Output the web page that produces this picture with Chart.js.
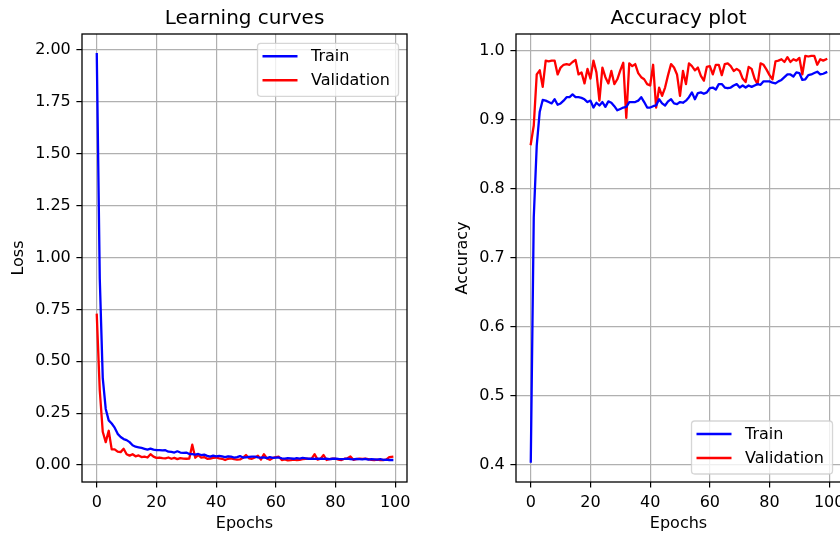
<!DOCTYPE html>
<html lang="en">
<head>
    <meta charset="UTF-8">
    <title>Learning curves</title>
    <script src="https://cdn.jsdelivr.net/npm/chart.js"></script>
    <style>
        body {
            margin: 0;
            background: #fff;
            overflow: hidden;
        }
        .figure {
            position: relative;
            width: 840px;
            height: 533px;
            overflow: hidden;
        }
        .panel {
            position: absolute;
            top: 0;
            height: 533px;
        }
        #lossBox { left: 0; width: 420px; }
        #accBox { left: 420px; width: 440px; }
    </style>
</head>
<body>
    <div class="figure">
        <div class="panel" id="lossBox"><canvas id="lossChart"></canvas></div>
        <div class="panel" id="accBox"><canvas id="accChart"></canvas></div>
    </div>

    <script>
        // values, one per epoch (0..99)
        const trainLoss = [
            1.980, 0.90, 0.42, 0.27, 0.215, 0.20, 0.18, 0.15, 0.135, 0.125,
            0.12, 0.11, 0.095, 0.088, 0.085, 0.082, 0.078, 0.074, 0.079, 0.074,
            0.072, 0.072, 0.070, 0.071, 0.064, 0.063, 0.060, 0.066, 0.060, 0.058,
            0.060, 0.053, 0.052, 0.050, 0.053, 0.048, 0.050, 0.044, 0.040, 0.045,
            0.042, 0.044, 0.041, 0.038, 0.042, 0.040, 0.036, 0.038, 0.043, 0.036,
            0.037, 0.039, 0.040, 0.040, 0.037, 0.035, 0.037, 0.033, 0.038, 0.034,
            0.035, 0.036, 0.032, 0.031, 0.033, 0.032, 0.030, 0.033, 0.031, 0.034,
            0.032, 0.030, 0.031, 0.029, 0.030, 0.031, 0.029, 0.030, 0.028, 0.030,
            0.031, 0.029, 0.028, 0.029, 0.031, 0.028, 0.027, 0.029, 0.028, 0.027,
            0.029, 0.026, 0.028, 0.027, 0.026, 0.028, 0.025, 0.026, 0.024, 0.024
        ];
        const valLoss = [
            0.724, 0.36, 0.16, 0.11, 0.165, 0.075, 0.075, 0.064, 0.062, 0.078,
            0.052, 0.045, 0.052, 0.042, 0.046, 0.038, 0.040, 0.036, 0.052, 0.040,
            0.034, 0.036, 0.033, 0.032, 0.036, 0.030, 0.034, 0.028, 0.033, 0.031,
            0.030, 0.031, 0.098, 0.035, 0.048, 0.036, 0.038, 0.030, 0.031, 0.034,
            0.036, 0.032, 0.030, 0.024, 0.030, 0.032, 0.028, 0.026, 0.027, 0.035,
            0.048, 0.032, 0.030, 0.036, 0.045, 0.026, 0.052, 0.032, 0.025, 0.034,
            0.038, 0.040, 0.024, 0.027, 0.022, 0.023, 0.026, 0.024, 0.025, 0.028,
            0.030, 0.029, 0.031, 0.052, 0.026, 0.030, 0.048, 0.024, 0.028, 0.030,
            0.030, 0.026, 0.024, 0.030, 0.032, 0.041, 0.025, 0.028, 0.030, 0.029,
            0.030, 0.028, 0.025, 0.024, 0.026, 0.024, 0.024, 0.026, 0.038, 0.040
        ];
        const trainAcc = [
            0.405, 0.759, 0.863, 0.912, 0.929, 0.928, 0.926, 0.924, 0.930, 0.922,
            0.924, 0.928, 0.933, 0.933, 0.937, 0.933, 0.933, 0.932, 0.930, 0.926,
            0.928, 0.918, 0.925, 0.921, 0.926, 0.919, 0.927, 0.925, 0.920, 0.914,
            0.916, 0.918, 0.919, 0.926, 0.926, 0.926, 0.928, 0.933, 0.926, 0.918,
            0.918, 0.920, 0.921, 0.930, 0.924, 0.921, 0.927, 0.930, 0.924, 0.923,
            0.926, 0.925, 0.928, 0.933, 0.940, 0.930, 0.939, 0.940, 0.938, 0.940,
            0.946, 0.947, 0.944, 0.952, 0.952, 0.947, 0.946, 0.947, 0.950, 0.952,
            0.947, 0.950, 0.947, 0.950, 0.948, 0.950, 0.952, 0.951, 0.956, 0.956,
            0.956, 0.954, 0.953, 0.956, 0.958, 0.962, 0.966, 0.966, 0.963, 0.969,
            0.968, 0.958, 0.959, 0.965, 0.966, 0.968, 0.970, 0.966, 0.967, 0.969
        ];
        const valAcc = [
            0.865, 0.892, 0.966, 0.972, 0.948, 0.986, 0.985, 0.986, 0.986, 0.966,
            0.976, 0.980, 0.981, 0.980, 0.984, 0.987, 0.966, 0.969, 0.953, 0.974,
            0.960, 0.986, 0.969, 0.928, 0.976, 0.962, 0.953, 0.971, 0.952, 0.959,
            0.972, 0.983, 0.903, 0.982, 0.978, 0.981, 0.968, 0.962, 0.959, 0.952,
            0.950, 0.980, 0.918, 0.947, 0.935, 0.947, 0.965, 0.981, 0.976, 0.966,
            0.935, 0.971, 0.952, 0.982, 0.978, 0.972, 0.976, 0.964, 0.957, 0.977,
            0.978, 0.966, 0.980, 0.980, 0.965, 0.981, 0.982, 0.978, 0.971, 0.974,
            0.971, 0.960, 0.955, 0.977, 0.974, 0.960, 0.952, 0.982, 0.980, 0.973,
            0.965, 0.959, 0.985, 0.986, 0.988, 0.984, 0.991, 0.984, 0.988, 0.986,
            0.990, 0.966, 0.993, 0.992, 0.993, 0.993, 0.980, 0.988, 0.986, 0.988
        ];

        const epochTicks = [0, 20, 40, 60, 80, 100];
        const lossTicks = [0, 0.25, 0.5, 0.75, 1.0, 1.25, 1.5, 1.75, 2.0];
        const accTicks = [0.4, 0.5, 0.6, 0.7, 0.8, 0.9, 1.0];
        const seriesNames = ['Train', 'Validation'];

        Chart.defaults.font.family = "'DejaVu Sans', sans-serif";
        Chart.defaults.color = '#000';

        const toPoints = arr => arr.map((v, i) => ({ x: i, y: v }));

        // four spines around the axes box, like matplotlib
        const spines = {
            id: 'spines',
            afterDatasetsDraw(chart) {
                const { ctx, chartArea: a } = chart;
                ctx.save();
                ctx.strokeStyle = '#000';
                ctx.lineWidth = 1.3;
                ctx.strokeRect(a.left, a.top, a.right - a.left, a.bottom - a.top);
                ctx.restore();
            }
        };

        // matplotlib-style legend box inside the axes
        const boxLegend = {
            id: 'boxLegend',
            afterDatasetsDraw(chart, args, opts) {
                const { ctx, chartArea: a } = chart;
                const w = 141, h = 53;
                const x = a.right - 8.5 - w;
                const y = opts.corner === 'bottom' ? a.bottom - 8 - h : a.top + 9.3;
                ctx.save();
                ctx.beginPath();
                ctx.roundRect(x, y, w, h, 3.2);
                ctx.fillStyle = 'rgba(255,255,255,0.8)';
                ctx.fill();
                ctx.strokeStyle = 'rgba(204,204,204,0.8)';
                ctx.lineWidth = 1.3;
                ctx.stroke();
                ctx.font = "16px 'DejaVu Sans'";
                ctx.textBaseline = 'middle';
                chart.data.datasets.forEach((ds, i) => {
                    const ry = y + 13 + i * 24;
                    ctx.beginPath();
                    ctx.moveTo(x + 5, ry);
                    ctx.lineTo(x + 40, ry);
                    ctx.strokeStyle = ds.borderColor;
                    ctx.lineWidth = 2.4;
                    ctx.stroke();
                    ctx.fillStyle = '#000';
                    ctx.fillText(ds.label, x + 53.5, ry + 1);
                });
                ctx.restore();
            }
        };

        function makeChart(id, opt) {
            return new Chart(document.getElementById(id), {
                type: 'line',
                data: {
                    datasets: [
                        { label: seriesNames[0], data: toPoints(opt.train), borderColor: '#0000ff' },
                        { label: seriesNames[1], data: toPoints(opt.val), borderColor: '#ff0000' }
                    ]
                },
                options: {
                    responsive: true,
                    maintainAspectRatio: false,
                    animation: false,
                    devicePixelRatio: 1,
                    layout: { padding: { left: 0, right: opt.padRight, top: 0, bottom: 0 } },
                    elements: {
                        point: { radius: 0 },
                        line: { borderWidth: 2.3, tension: 0, borderJoinStyle: 'round', borderCapStyle: 'square' }
                    },
                    plugins: {
                        legend: { display: false },
                        tooltip: { enabled: false },
                        title: {
                            display: true,
                            text: opt.title,
                            fullSize: false,
                            color: '#000',
                            font: { size: 20, weight: 'normal', lineHeight: 1.2 },
                            padding: { top: 6.5, bottom: 3.5 }
                        },
                        boxLegend: { corner: opt.legendCorner }
                    },
                    scales: {
                        x: {
                            type: 'linear',
                            min: -4.95,
                            max: 103.95,
                            afterFit: s => { s.height = 51; },
                            afterBuildTicks: s => { s.ticks = epochTicks.map(v => ({ value: v })); },
                            ticks: { font: { size: 16 }, color: '#000', padding: 5.6, maxRotation: 0, callback: v => String(v) },
                            grid: { color: '#b0b0b0', lineWidth: 1.2, tickLength: 5.6, tickColor: '#000', tickWidth: 1.2 },
                            border: { display: false },
                            title: { display: true, text: 'Epochs', font: { size: 16 }, color: '#000', padding: { top: 0, bottom: 0 } }
                        },
                        y: {
                            type: 'linear',
                            min: opt.yMin,
                            max: opt.yMax,
                            afterFit: s => { s.width = opt.yWidth; },
                            afterBuildTicks: s => { s.ticks = opt.yTicks.map(v => ({ value: v })); },
                            ticks: { font: { size: 16 }, color: '#000', padding: 5.6, callback: v => v.toFixed(opt.digits) },
                            grid: { color: '#b0b0b0', lineWidth: 1.2, tickLength: 5.6, tickColor: '#000', tickWidth: 1.2 },
                            border: { display: false },
                            title: { display: true, text: opt.yLabel, font: { size: 16 }, color: '#000', padding: { top: opt.yTitlePad, bottom: 0 } }
                        }
                    }
                },
                plugins: [spines, boxLegend]
            });
        }

        makeChart('lossChart', {
            title: 'Learning curves',
            train: trainLoss,
            val: valLoss,
            yMin: -0.082,
            yMax: 2.077,
            yTicks: lossTicks,
            digits: 2,
            yLabel: 'Loss',
            yWidth: 82,
            yTitlePad: 9.4,
            padRight: 13,
            legendCorner: 'top'
        });

        makeChart('accChart', {
            title: 'Accuracy plot',
            train: trainAcc,
            val: valAcc,
            yMin: 0.3754,
            yMax: 1.0246,
            yTicks: accTicks,
            digits: 1,
            yLabel: 'Accuracy',
            yWidth: 96,
            yTitlePad: 33.4,
            padRight: 19,
            legendCorner: 'bottom'
        });
    </script>
</body>
</html>
